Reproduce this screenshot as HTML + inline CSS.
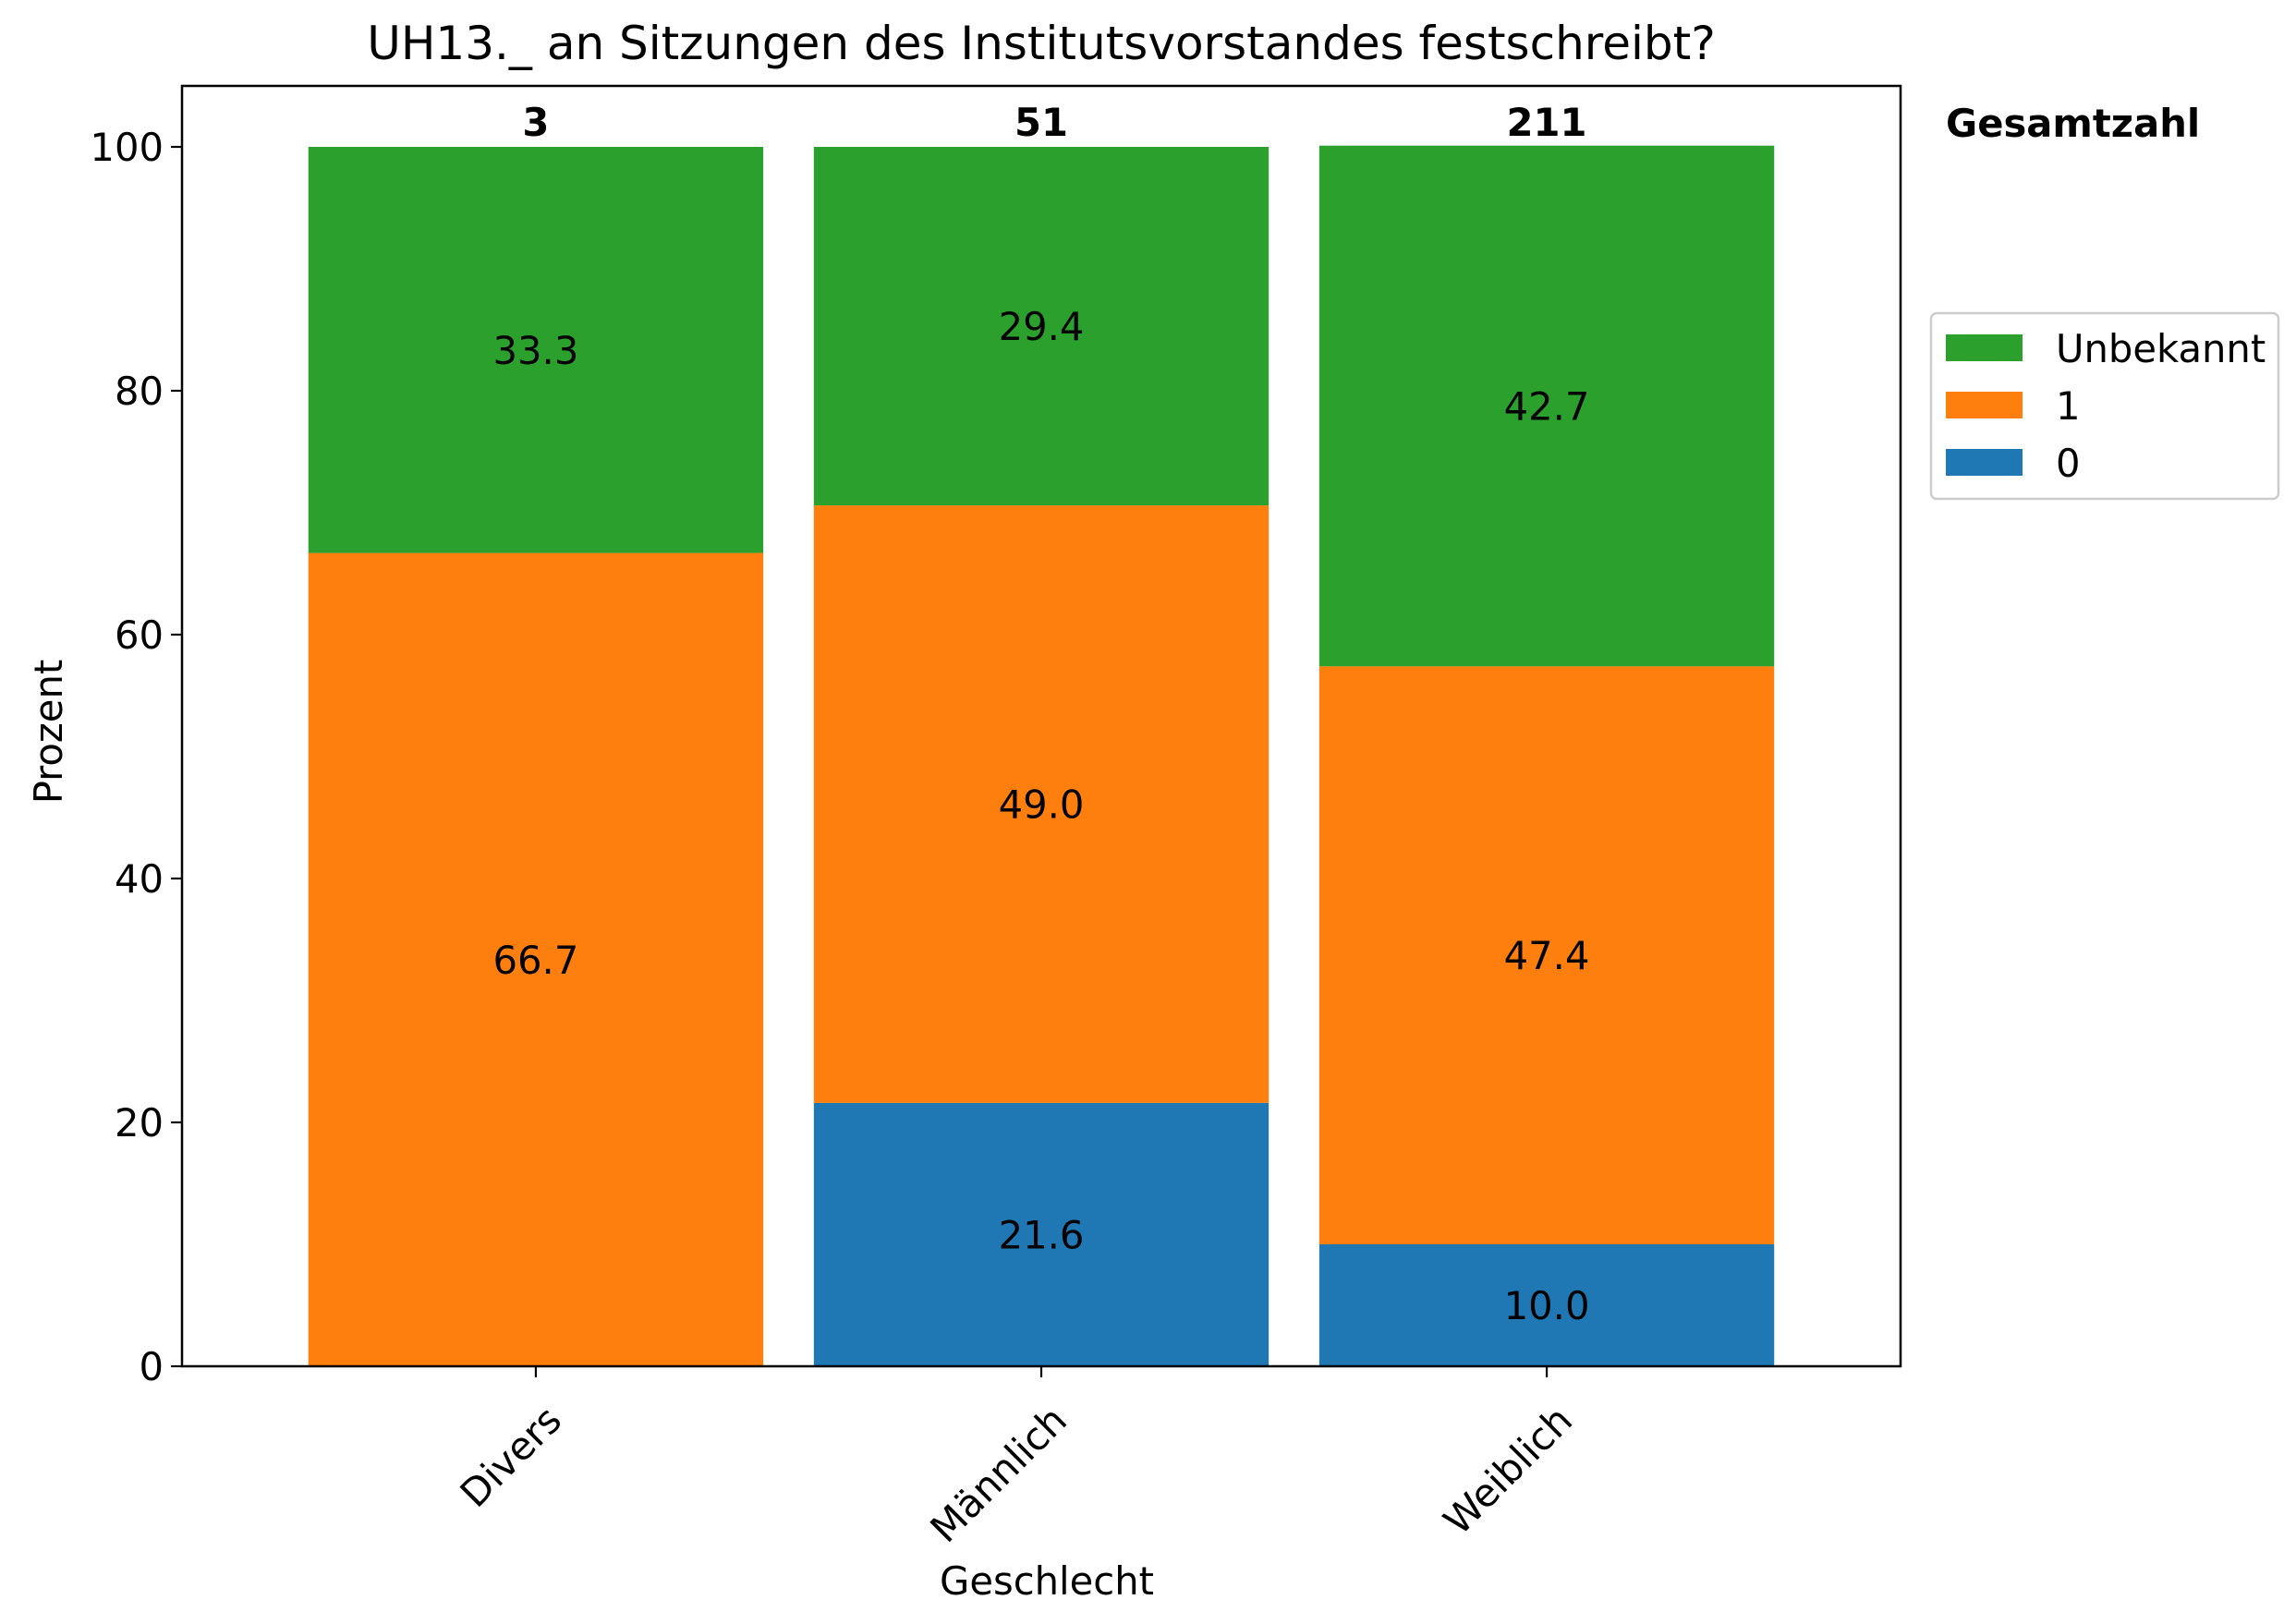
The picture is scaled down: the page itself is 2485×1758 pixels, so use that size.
<!DOCTYPE html>
<html><head><meta charset="utf-8"><style>
html,body{margin:0;padding:0;background:#fff;}
svg{display:block;font-family:"DejaVu Sans","Liberation Sans",sans-serif;}
</style></head><body>
<svg id="chart" width="2485" height="1758" viewBox="0 0 2485 1758">
<text x="1127" y="64" font-size="50" text-anchor="middle">UH13._ an Sitzungen des Institutsvorstandes festschreibt?</text>
<g id="bars"></g>
<g id="axes"></g>
<text x="1133" y="1726" font-size="41.7" text-anchor="middle">Geschlecht</text>
<text transform="translate(67,792) rotate(-90)" font-size="41.7" text-anchor="middle">Prozent</text>
<text x="2106" y="148" font-size="41.7" font-weight="bold">Gesamtzahl</text>
<g>
<rect x="2090" y="339" width="376" height="201" rx="6" fill="#fff" stroke="#ccc" stroke-width="2.5"/>
<rect x="2106" y="362" width="83" height="29" fill="#2ca02c"/>
<text x="2225" y="392" font-size="41.7">Unbekannt</text>
<rect x="2106" y="424" width="83" height="29" fill="#ff7f0e"/>
<text x="2225" y="454" font-size="41.7">1</text>
<rect x="2106" y="486" width="83" height="29" fill="#1f77b4"/>
<text x="2225" y="516" font-size="41.7">0</text>
</g>
</svg>
<script>
const categories = ["Divers", "Männlich", "Weiblich"];
const values0 = [0, 21.6, 10.0];
const values1 = [66.7, 49.0, 47.4];
const valuesUnbekannt = [33.3, 29.4, 42.7];
const totals = [3, 51, 211];
const yTicks = [0, 20, 40, 60, 80, 100];

const NS = "http://www.w3.org/2000/svg";
const L = 197, R = 2057, T = 93, B = 1479;
const xMin = -0.7, xMax = 2.7, yMax = 105;
const xs = v => L + (v - xMin) / (xMax - xMin) * (R - L);
const ys = v => B - v / yMax * (B - T);
const bw = 0.9 * (R - L) / (xMax - xMin);
function mk(tag, attrs, parent) {
  const e = document.createElementNS(NS, tag);
  for (const k in attrs) e.setAttribute(k, attrs[k]);
  parent.appendChild(e);
  return e;
}
const bars = document.getElementById("bars");
const axes = document.getElementById("axes");
const series = [
  {vals: values0, color: "#1f77b4", key: "0"},
  {vals: values1, color: "#ff7f0e", key: "1"},
  {vals: valuesUnbekannt, color: "#2ca02c", key: "unbekannt"}
];
categories.forEach((c, i) => {
  let base = 0;
  const cx = xs(i);
  series.forEach(s => {
    const v = s.vals[i];
    if (v > 0) {
      const r = mk("rect", {x: cx - bw / 2, y: ys(base + v), width: bw, height: ys(base) - ys(base + v), fill: s.color}, bars);
      
      
      const t = mk("text", {x: cx, y: ys(base + v / 2) + 15, "font-size": 41.7, "text-anchor": "middle"}, bars);
      t.textContent = v.toFixed(1);
      
      
    }
    base += v;
  });
  const tt = mk("text", {x: cx, y: ys(100) - 12, "font-size": 41.7, "font-weight": "bold", "text-anchor": "middle"}, bars);
  tt.textContent = totals[i];
  
  
  const tk = mk("line", {x1: cx, x2: cx, y1: B, y2: B + 12, stroke: "#000", "stroke-width": 2.2}, axes);
  
  
  const lx = cx + 30, ly = 1540;
  const xl = mk("text", {x: lx, y: ly, "font-size": 41.7, "text-anchor": "end", transform: `rotate(-45 ${lx} ${ly})`}, axes);
  xl.textContent = c;
  
  
});
yTicks.forEach(v => {
  const y = ys(v);
  const tk = mk("line", {x1: L - 12, x2: L, y1: y, y2: y, stroke: "#000", "stroke-width": 2.2}, axes);
  
  
  const tl = mk("text", {x: L - 20, y: y + 15, "font-size": 41.7, "text-anchor": "end"}, axes);
  tl.textContent = v;
  
  
});
const frame = mk("rect", {x: L, y: T, width: R - L, height: B - T, fill: "none", stroke: "#000", "stroke-width": 2.5}, axes);


</script>
</body></html>
